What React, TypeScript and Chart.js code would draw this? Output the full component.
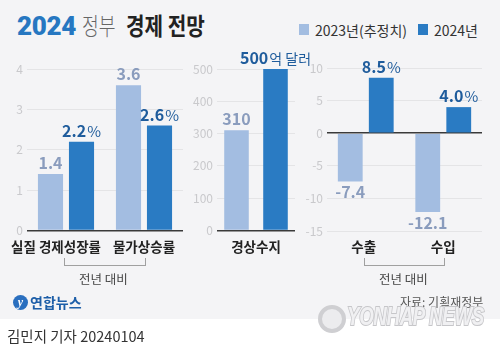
import React, { useEffect, useRef } from "react";
import { Chart, registerables } from "chart.js";

Chart.register(...registerables);

// ---------- data ----------
const seriesNames = ["2023년(추정치)", "2024년"];
const growthCategories = ["실질 경제성장률", "물가상승률"];
const growth2023 = [1.4, 3.6];
const growth2024 = [2.2, 2.6];
const growthTicks = { min: 0, max: 4, step: 1 };

const balanceCategories = ["경상수지"];
const balance2023 = [310];
const balance2024 = [500];
const balanceTicks = { min: 0, max: 500, step: 100 };

const tradeCategories = ["수출", "수입"];
const trade2023 = [-7.4, -12.1];
const trade2024 = [8.5, 4.0];
const tradeTicks = { min: -15, max: 10, step: 5 };

// ---------- style ----------
const FONT = '"Noto Sans CJK KR", "Noto Sans", sans-serif';
const LIGHT = "#a3bde1";
const DARK = "#2a7bc3";
const LIGHT_TEXT = "#8a9cbd";
const DARK_TEXT = "#1f5c9c";

const valueLabels = {
  id: "valueLabels",
  afterDatasetsDraw(chart: any, _args: any, opts: any) {
    const ctx = chart.ctx;
    chart.data.datasets.forEach((ds: any, di: number) => {
      const meta = chart.getDatasetMeta(di);
      meta.data.forEach((el: any, i: number) => {
        const v = ds.data[i];
        const main = v.toFixed(opts.decimals);
        const suffix = di === 1 ? opts.suffix : "";
        const mainFont = `bold 16px ${FONT}`;
        const sufFont = `normal ${opts.suffixSize}px ${FONT}`;
        ctx.save();
        ctx.font = mainFont;
        const w1 = ctx.measureText(main).width;
        ctx.font = sufFont;
        const w2 = suffix ? ctx.measureText(suffix).width + 1 : 0;
        const total = w1 + w2;
        const x0 = el.x - total / 2;
        const y = v >= 0 ? el.y - 5 : el.y + 17;
        ctx.textBaseline = "alphabetic";
        ctx.textAlign = "left";
        ctx.fillStyle = di === 0 ? LIGHT_TEXT : DARK_TEXT;
        ctx.font = mainFont;
        ctx.fillText(main, x0, y);
        if (suffix) {
          ctx.font = sufFont;
          ctx.fillText(suffix, x0 + w1 + 1, y);
        }
        ctx.restore();
      });
    });
  },
};

const categoryLabels = {
  id: "categoryLabels",
  afterDraw(chart: any, _args: any, opts: any) {
    const ctx = chart.ctx;
    const xs = chart.scales.x;
    ctx.save();
    ctx.font = `bold 13.5px ${FONT}`;
    ctx.fillStyle = "#222";
    ctx.textAlign = "center";
    ctx.textBaseline = "middle";
    chart.data.labels.forEach((lab: string, i: number) => {
      const off = (opts.offsets && opts.offsets[i]) || 0;
      ctx.fillText(lab, xs.getPixelForValue(i) + off, opts.y - chart.canvas.offsetTop0);
    });
    ctx.restore();
  },
};

type Cfg = {
  labels: string[];
  a: number[];
  b: number[];
  ticks: { min: number; max: number; step: number };
  box: { left: number; top: number; width: number; height: number };
  area: { left: number; top: number; right: number; bottom: number };
  catPct: number;
  barPct: number;
  decimals: number;
  suffix: string;
  suffixSize: number;
  offsets: number[];
};

function makeChart(canvas: HTMLCanvasElement, c: Cfg) {
  (canvas as any).offsetTop0 = c.box.top;
  const yWidth = c.area.left - c.box.left;
  return new Chart(canvas, {
    type: "bar",
    data: {
      labels: c.labels,
      datasets: [
        {
          label: seriesNames[0],
          data: c.a,
          backgroundColor: LIGHT,
          categoryPercentage: c.catPct,
          barPercentage: c.barPct,
        },
        {
          label: seriesNames[1],
          data: c.b,
          backgroundColor: DARK,
          categoryPercentage: c.catPct,
          barPercentage: c.barPct,
        },
      ],
    },
    options: {
      responsive: false,
      animation: false,
      devicePixelRatio: 1,
      layout: {
        padding: {
          left: 0,
          top: c.area.top - c.box.top,
          right: c.box.left + c.box.width - c.area.right,
          bottom: c.box.top + c.box.height - c.area.bottom,
        },
      },
      plugins: {
        legend: { display: false },
        tooltip: { enabled: false },
        valueLabels: { decimals: c.decimals, suffix: c.suffix, suffixSize: c.suffixSize },
        categoryLabels: { offsets: c.offsets, y: 247 },
      } as any,
      scales: {
        x: {
          display: false,
          grid: { display: false },
        },
        y: {
          min: c.ticks.min,
          max: c.ticks.max,
          afterFit: (scale: any) => {
            scale.width = yWidth;
          },
          border: { display: false },
          grid: {
            drawTicks: false,
            color: (ctx: any) => (ctx.tick && ctx.tick.value === 0 ? "#3a3a3a" : "#e4e4e6"),
            lineWidth: (ctx: any) => (ctx.tick && ctx.tick.value === 0 ? 1.5 : 1),
          },
          ticks: {
            stepSize: c.ticks.step,
            padding: 4,
            color: "#c9c9cc",
            font: { family: FONT, size: 12, weight: "normal" },
          },
        },
      },
    },
    plugins: [valueLabels, categoryLabels],
  } as any);
}

const abs = (l: number, t: number, extra: React.CSSProperties = {}): React.CSSProperties => ({
  position: "absolute",
  left: l,
  top: t,
  whiteSpace: "nowrap",
  ...extra,
});

export default function App() {
  const r1 = useRef<HTMLCanvasElement>(null);
  const r2 = useRef<HTMLCanvasElement>(null);
  const r3 = useRef<HTMLCanvasElement>(null);

  const box1 = { left: 0, top: 40, width: 190, height: 225 };
  const box2 = { left: 185, top: 40, width: 130, height: 225 };
  const box3 = { left: 300, top: 40, width: 200, height: 225 };

  useEffect(() => {
    const c1 = makeChart(r1.current!, {
      labels: growthCategories,
      a: growth2023,
      b: growth2024,
      ticks: growthTicks,
      box: box1,
      area: { left: 27, top: 69, right: 183, bottom: 230.5 },
      catPct: 0.795,
      barPct: 0.81,
      decimals: 1,
      suffix: "%",
      suffixSize: 15,
      offsets: [-10, 0],
    });
    const c2 = makeChart(r2.current!, {
      labels: balanceCategories,
      a: balance2023,
      b: balance2024,
      ticks: balanceTicks,
      box: box2,
      area: { left: 217, top: 69, right: 295, bottom: 230.5 },
      catPct: 1.0,
      barPct: 0.63,
      decimals: 0,
      suffix: "억 달러",
      suffixSize: 14,
      offsets: [0],
    });
    const c3 = makeChart(r3.current!, {
      labels: tradeCategories,
      a: trade2023,
      b: trade2024,
      ticks: tradeTicks,
      box: box3,
      area: { left: 327, top: 68, right: 482, bottom: 231 },
      catPct: 0.8,
      barPct: 0.8,
      decimals: 1,
      suffix: "%",
      suffixSize: 15,
      offsets: [-2, 0],
    });
    return () => {
      c1.destroy();
      c2.destroy();
      c3.destroy();
    };
  }, []);

  const cv = (b: { left: number; top: number; width: number; height: number }): React.CSSProperties => ({
    position: "absolute",
    left: b.left,
    top: b.top,
    width: b.width,
    height: b.height,
  });

  const bracket = (l: number, w: number): React.CSSProperties =>
    abs(l, 258, {
      width: w,
      height: 8,
      border: "1px solid #a0a0a0",
      borderTop: "none",
      boxSizing: "border-box",
    });

  return (
    <div
      style={{
        position: "absolute",
        left: 0,
        top: 0,
        width: 500,
        height: 351,
        background: "#ffffff",
        overflow: "hidden",
        fontFamily: FONT,
      }}
    >
      <div style={abs(0, 0, { width: 500, height: 319, background: "#f4f4f6" })} />

      {/* title */}
      <div
        style={abs(17, 10, {
          fontFamily: 'Roboto, "Noto Sans CJK KR", sans-serif',
          fontWeight: 900,
          fontSize: 26,
          lineHeight: "32px",
          color: "#2677c1",
          letterSpacing: -0.3,
        })}
      >
        2024
      </div>
      <div
        style={abs(82, 9, {
          fontWeight: 300,
          fontSize: 24,
          lineHeight: "32px",
          color: "#666",
          transform: "scaleX(0.76)",
          transformOrigin: "left center",
        })}
      >
        정부
      </div>
      <div
        style={abs(126, 9, {
          fontWeight: 700,
          fontSize: 24,
          lineHeight: "32px",
          color: "#222",
          transform: "scaleX(0.84)",
          transformOrigin: "left center",
        })}
      >
        경제 전망
      </div>

      {/* legend */}
      <div style={abs(299, 24, { width: 10, height: 11, background: LIGHT })} />
      <div style={abs(315, 20, { fontSize: 14, lineHeight: "20px", color: "#333" })}>{seriesNames[0]}</div>
      <div style={abs(418, 24, { width: 10, height: 11, background: DARK })} />
      <div style={abs(434, 20, { fontSize: 14, lineHeight: "20px", color: "#333" })}>{seriesNames[1]}</div>

      {/* charts */}
      <canvas ref={r1} width={box1.width} height={box1.height} style={cv(box1)} />
      <canvas ref={r2} width={box2.width} height={box2.height} style={cv(box2)} />
      <canvas ref={r3} width={box3.width} height={box3.height} style={cv(box3)} />

      {/* brackets */}
      <div style={bracket(64, 82)} />
      <div style={abs(79, 270, { fontSize: 12.5, lineHeight: "18px", color: "#444" })}>전년 대비</div>
      <div style={bracket(364, 81)} />
      <div style={abs(379, 270, { fontSize: 12.5, lineHeight: "18px", color: "#444" })}>전년 대비</div>

      {/* source */}
      <div style={abs(400, 293, { fontSize: 12, lineHeight: "18px", color: "#555" })}>자료: 기획재정부</div>

      {/* Yonhap logo */}
      <div
        style={abs(13, 295, {
          width: 15,
          height: 15,
          borderRadius: "50%",
          background: "#2a6fbf",
          color: "#fff",
          fontSize: 12,
          lineHeight: "15px",
          textAlign: "center",
          fontStyle: "italic",
          fontWeight: 700,
          fontFamily: '"Liberation Serif", serif',
        })}
      >
        y
      </div>
      <div style={abs(30, 293, { fontSize: 14, lineHeight: "18px", color: "#1d5ea8", fontWeight: 700 })}>연합뉴스</div>

      {/* watermark */}
      <div
        style={abs(318, 305, {
          width: 20,
          height: 20,
          borderRadius: "50%",
          border: "4px solid #cfcfd2",
          background: "#ececee",
        })}
      />
      <div
        style={abs(347, 303, {
          fontFamily: '"Liberation Sans", Arial, sans-serif',
          fontWeight: 700,
          fontStyle: "italic",
          fontSize: 25,
          lineHeight: "26px",
          color: "#f0f0f2",
          WebkitTextStroke: "2px #c6c6c9",
          paintOrder: "stroke fill",
          transform: "scaleX(0.75)",
          transformOrigin: "left center",
          letterSpacing: -0.5,
        } as any)}
      >
        YONHAP NEWS
      </div>

      {/* byline */}
      <div style={abs(7, 326, { fontSize: 14.5, lineHeight: "20px", color: "#333" })}>
        김민지 기자 20240104
      </div>
    </div>
  );
}
